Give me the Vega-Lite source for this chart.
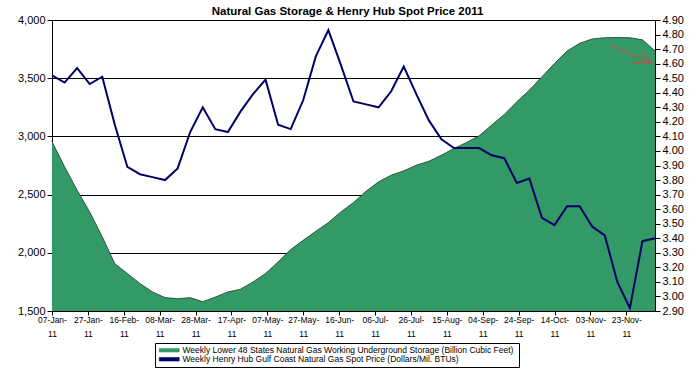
{
  "$schema": "https://vega.github.io/schema/vega-lite/v6.json",
  "width": 603,
  "height": 291,
  "autosize": "none",
  "padding": {"left": 52, "top": 20, "right": 42, "bottom": 58},
  "background": "white",
  "title": {
    "text": "Natural Gas Storage & Henry Hub Spot Price 2011",
    "font": "Liberation Sans",
    "fontSize": 11.5,
    "fontWeight": "bold",
    "color": "black",
    "anchor": "middle",
    "offset": 3,
    "dx": -6,
    "dy": 6
  },
  "config": {
    "view": {"stroke": null},
    "font": "Liberation Sans",
    "axis": {
      "domainColor": "black",
      "tickColor": "black",
      "labelColor": "black",
      "labelFont": "Liberation Sans"
    }
  },
  "datasets": {
    "weekly": [
      {"date": "2011-01-07", "storage": 2955, "price": 4.52},
      {"date": "2011-01-14", "storage": 2740, "price": 4.47},
      {"date": "2011-01-21", "storage": 2538, "price": 4.57},
      {"date": "2011-01-28", "storage": 2351, "price": 4.46},
      {"date": "2011-02-04", "storage": 2137, "price": 4.51},
      {"date": "2011-02-11", "storage": 1907, "price": 4.18},
      {"date": "2011-02-18", "storage": 1822, "price": 3.89},
      {"date": "2011-02-25", "storage": 1736, "price": 3.84},
      {"date": "2011-03-04", "storage": 1664, "price": 3.82},
      {"date": "2011-03-11", "storage": 1615, "price": 3.80},
      {"date": "2011-03-18", "storage": 1606, "price": 3.88},
      {"date": "2011-03-25", "storage": 1615, "price": 4.13},
      {"date": "2011-04-01", "storage": 1580, "price": 4.30},
      {"date": "2011-04-08", "storage": 1620, "price": 4.15},
      {"date": "2011-04-15", "storage": 1664, "price": 4.13},
      {"date": "2011-04-22", "storage": 1687, "price": 4.27},
      {"date": "2011-04-29", "storage": 1750, "price": 4.39},
      {"date": "2011-05-06", "storage": 1822, "price": 4.49},
      {"date": "2011-05-13", "storage": 1922, "price": 4.18},
      {"date": "2011-05-20", "storage": 2028, "price": 4.15},
      {"date": "2011-05-27", "storage": 2108, "price": 4.35},
      {"date": "2011-06-03", "storage": 2185, "price": 4.65},
      {"date": "2011-06-10", "storage": 2260, "price": 4.83},
      {"date": "2011-06-17", "storage": 2351, "price": 4.59},
      {"date": "2011-06-24", "storage": 2432, "price": 4.34},
      {"date": "2011-07-01", "storage": 2529, "price": 4.32},
      {"date": "2011-07-08", "storage": 2610, "price": 4.30},
      {"date": "2011-07-15", "storage": 2667, "price": 4.41},
      {"date": "2011-07-22", "storage": 2704, "price": 4.58},
      {"date": "2011-07-29", "storage": 2753, "price": 4.39},
      {"date": "2011-08-05", "storage": 2787, "price": 4.21},
      {"date": "2011-08-12", "storage": 2839, "price": 4.08},
      {"date": "2011-08-19", "storage": 2897, "price": 4.02},
      {"date": "2011-08-26", "storage": 2948, "price": 4.02},
      {"date": "2011-09-02", "storage": 3005, "price": 4.02},
      {"date": "2011-09-09", "storage": 3097, "price": 3.97},
      {"date": "2011-09-16", "storage": 3189, "price": 3.95},
      {"date": "2011-09-23", "storage": 3297, "price": 3.78},
      {"date": "2011-09-30", "storage": 3398, "price": 3.81},
      {"date": "2011-10-07", "storage": 3512, "price": 3.54},
      {"date": "2011-10-14", "storage": 3627, "price": 3.49},
      {"date": "2011-10-21", "storage": 3733, "price": 3.62},
      {"date": "2011-10-28", "storage": 3800, "price": 3.62},
      {"date": "2011-11-04", "storage": 3837, "price": 3.48},
      {"date": "2011-11-11", "storage": 3848, "price": 3.42},
      {"date": "2011-11-18", "storage": 3850, "price": 3.10},
      {"date": "2011-11-25", "storage": 3848, "price": 2.92},
      {"date": "2011-12-02", "storage": 3830, "price": 3.38},
      {"date": "2011-12-09", "storage": 3735, "price": 3.40}
    ],
    "arrow": [
      {"date": "2011-11-14", "y": 3785, "date2": "2011-12-07", "y2": 3628},
      {"date": "2011-12-01", "y": 3736, "date2": "2011-12-07", "y2": 3628},
      {"date": "2011-11-26", "y": 3633, "date2": "2011-12-07", "y2": 3628}
    ]
  },
  "layer": [
    {
      "layer": [
        {
          "data": {"name": "weekly"},
          "mark": {"type": "area"},
          "encoding": {
            "x": {
              "field": "date",
              "type": "temporal",
              "scale": {
                "type": "utc",
                "domain": ["2011-01-07", "2011-12-09"],
                "nice": false
              },
              "axis": {
                "title": null,
                "values": ["2011-01-07", "2011-01-27", "2011-02-16", "2011-03-08", "2011-03-28", "2011-04-17", "2011-05-07", "2011-05-27", "2011-06-16", "2011-07-06", "2011-07-26", "2011-08-15", "2011-09-04", "2011-09-24", "2011-10-14", "2011-11-03", "2011-11-23"],
                "tickCount": 40,
                "labelExpr": "[utcFormat(datum.value, '%d-%b-'), '11']",
                "labelFontSize": 8.5,
                "labelLineHeight": 14,
                "labelPadding": 0,
                "tickSize": 4,
                "grid": false,
                "labelOverlap": false,
                "labelFlush": false
              }
            },
            "y": {
              "field": "storage",
              "type": "quantitative",
              "scale": {"domain": [1500, 4000], "nice": false, "zero": false},
              "axis": {
                "title": null,
                "orient": "left",
                "values": [1500, 2000, 2500, 3000, 3500, 4000],
                "format": ",d",
                "labelFontSize": 11,
                "tickSize": 5,
                "grid": true,
                "gridColor": "black",
                "gridOpacity": 1,
                "gridWidth": 1
              }
            },
            "y2": {"datum": 1500},
            "color": {
              "datum": "Weekly Lower 48 States Natural Gas Working Underground Storage  (Billion Cubic Feet)",
              "type": "nominal",
              "scale": {
                "domain": [
                  "Weekly Lower 48 States Natural Gas Working Underground Storage  (Billion Cubic Feet)",
                  "Weekly Henry Hub Gulf Coast Natural Gas Spot Price (Dollars/Mil. BTUs)"
                ],
                "range": ["#339966", "#000066"]
              },
              "legend": {
                "orient": "none",
                "legendX": 103,
                "legendY": 323,
                "direction": "vertical",
                "title": null,
                "strokeColor": "black",
                "padding": 3,
                "symbolType": "M-1,-0.6H5.67V0.6H-1Z",
                "symbolSize": 36,
                "symbolStrokeWidth": 0.5,
                "labelFont": "Liberation Sans",
                "labelFontSize": 8.5,
                "labelColor": "black",
                "labelLimit": 600,
                "labelOffset": 16,
                "rowPadding": 0
              }
            }
          }
        },
        {
          "data": {"name": "weekly"},
          "mark": {"type": "line", "stroke": "#1b3b2a", "strokeWidth": 0.8},
          "encoding": {
            "x": {"field": "date", "type": "temporal"},
            "y": {"field": "storage", "type": "quantitative"}
          }
        },
        {
          "data": {"name": "arrow"},
          "mark": {"type": "rule", "stroke": "#c0504d", "strokeWidth": 1.2},
          "encoding": {
            "x": {"field": "date", "type": "temporal"},
            "x2": {"field": "date2"},
            "y": {"field": "y", "type": "quantitative"},
            "y2": {"field": "y2"}
          }
        }
      ]
    },
    {
      "data": {"name": "weekly"},
      "mark": {"type": "line", "strokeWidth": 2},
      "encoding": {
        "x": {"field": "date", "type": "temporal"},
        "y": {
          "field": "price",
          "type": "quantitative",
          "scale": {"domain": [2.9, 4.9], "nice": false, "zero": false},
          "axis": {
            "title": null,
            "orient": "right",
            "values": [2.9, 3.0, 3.1, 3.2, 3.3, 3.4, 3.5, 3.6, 3.7, 3.8, 3.9, 4.0, 4.1, 4.2, 4.3, 4.4, 4.5, 4.6, 4.7, 4.8, 4.9],
            "format": ".2f",
            "labelFontSize": 11,
            "tickSize": 5,
            "grid": false
          }
        },
        "color": {
          "datum": "Weekly Henry Hub Gulf Coast Natural Gas Spot Price (Dollars/Mil. BTUs)",
          "type": "nominal"
        }
      }
    }
  ],
  "resolve": {"scale": {"y": "independent"}}
}
